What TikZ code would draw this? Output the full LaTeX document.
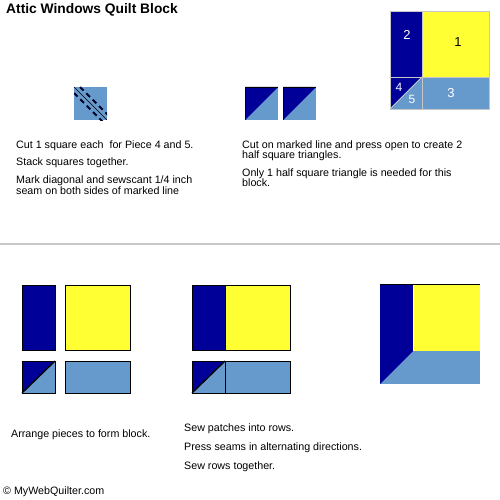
\documentclass[tikz,border=0pt]{standalone}
\usepackage{fontspec}
\setmainfont{Liberation Sans}
\usetikzlibrary{positioning, calc}
\definecolor{navy}{RGB}{0,0,153}
\definecolor{lemon}{RGB}{255,255,51}
\definecolor{sky}{RGB}{102,153,204}
\definecolor{rulegray}{RGB}{200,200,200}
\tikzstyle{patch}=[draw, line width=1pt, inner sep=0, outer sep=0, anchor=north west]
\tikzstyle{ppatch}=[draw=gray!45, line width=0.8pt, inner sep=0, outer sep=0, anchor=north west]
\tikzstyle{txt}=[inner sep=0, anchor=base west, font=\fontsize{10.7}{12}\selectfont]
\tikzstyle{num}=[inner sep=0, font=\fontsize{13}{13}\selectfont]

\begin{document}
\begin{tikzpicture}[x=1pt,y=-1pt]
    \useasboundingbox (0,0) rectangle (500,500);
    \node [anchor=base west, inner sep=0, font=\bfseries\fontsize{13.8}{14}\selectfont] (title) at (6,14) {Attic Windows Quilt Block};

    % finished block, top right
    \node [ppatch, fill=navy, minimum width=32pt, minimum height=66pt] (b2) at (390,11) {};
    \node [ppatch, fill=lemon, minimum width=67pt, minimum height=66pt] (b1) at (422,11) {};
    \node [ppatch, fill=sky, minimum width=67pt, minimum height=32pt] (b3) at (422,77) {};
    \node [ppatch, fill=navy, minimum width=32pt, minimum height=32pt] (b45) at (390,77) {};
    \fill [sky] (b45.south west) -- (b45.north east) -- (b45.south east) -- cycle;
    \draw [gray!45, line width=0.8pt] (b45.south west) -- (b45.north east);
    \draw [gray!45, line width=0.8pt] (b45.south west) rectangle (b45.north east);
    \node [num, text=white] (n2) at (407,35) {2};
    \node [num] (n1) at (458,42) {1};
    \node [num, text=white] (n3) at (451,93) {3};
    \node [num, text=white, font=\fontsize{12}{12}\selectfont] (n4) at (399,87) {4};
    \node [num, text=white, font=\fontsize{12}{12}\selectfont] (n5) at (412,99) {5};

    % stacked squares
    \node [inner sep=0, outer sep=0, anchor=north west, fill=sky, minimum size=33pt] (stack) at (74,87) {};
    \begin{scope}
        \path [clip] (stack.north west) rectangle (stack.south east);
        \draw [black!75!navy, line width=1.8pt, dash pattern=on 5pt off 4pt] ($(stack.north west)+(6,0)$) -- ($(stack.south east)+(6,0)$);
        \draw [black!75!navy, line width=1.8pt, dash pattern=on 5pt off 4pt] ($(stack.north west)+(0,6)$) -- ($(stack.south east)+(0,6)$);
    \end{scope}
    \draw [line width=0.7pt] (stack.north west) -- (stack.south east);

    % two half square triangles
    \foreach \n/\x in {hsta/245, hstb/283} {
        \node [inner sep=0, outer sep=0, anchor=north west, fill=sky, minimum size=33pt] (\n) at (\x,87) {};
        \fill [navy] (\n.north west) -- (\n.north east) -- (\n.south west) -- cycle;
        \draw [line width=0.8pt] (\n.south west) -- (\n.north west) -- (\n.north east);
    }

    \node [txt] (cut) at (16,148) {Cut 1 square each\ \ for Piece 4 and 5.};
    \node [txt] (stk) at (16,165) {Stack squares together.};
    \node [txt] (marka) at (16,183) {Mark diagonal and sewscant 1/4 inch};
    \node [txt] (markb) at (16,194) {seam on both sides of marked line};
    \node [txt] (cuta) at (242,148) {Cut on marked line and press open to create 2};
    \node [txt] (cutb) at (242,158) {half square triangles.};
    \node [txt] (onlya) at (242,176) {Only 1 half square triangle is needed for this};
    \node [txt] (onlyb) at (242,186) {block.};

    \coordinate (ruleL) at (0,243.5);
    \coordinate (ruleR) at (500,243.5);
    \draw [rulegray, line width=2pt] (ruleL) -- (ruleR);

    % arranged pieces and sewn rows
    \foreach \p/\x/\g in {a/22/43, s/192/33} {
        \node [patch, fill=navy, minimum width=33pt, minimum height=65pt] (\p2) at (\x,285) {};
        \node [patch, fill=lemon, minimum width=65pt, minimum height=65pt] (\p1) at (\x+\g,285) {};
        \node [patch, fill=sky, minimum width=33pt, minimum height=32pt] (\p45) at (\x,361) {};
        \fill [navy] (\p45.north west) -- (\p45.north east) -- (\p45.south west) -- cycle;
        \draw [line width=1.3pt] (\p45.south west) -- (\p45.north east);
        \draw [line width=1pt] (\p45.south west) rectangle (\p45.north east);
        \node [patch, fill=sky, minimum width=65pt, minimum height=32pt] (\p3) at (\x+\g,361) {};
    }

    % finished block, bottom right
    \node [inner sep=0, outer sep=0, anchor=north west, fill=sky, minimum size=100pt] (blk) at (380,284) {};
    \coordinate (knee) at (413,351);
    \fill [lemon] (knee) rectangle (blk.north east);
    \fill [navy] (blk.north west) -- (blk.north west -| knee) -- (knee) -- (blk.south west) -- cycle;
    \draw [white, line width=1pt] (knee) -- (blk.north west -| knee);
    \draw [line width=1pt] (blk.north west) -- (blk.north east);

    \node [txt] (arr) at (11,437) {Arrange pieces to form block.};
    \node [txt] (sewp) at (184,431) {Sew patches into rows.};
    \node [txt] (press) at (184,450) {Press seams in alternating directions.};
    \node [txt] (sewr) at (184,469) {Sew rows together.};
    \node [txt] (copy) at (3,494) {© MyWebQuilter.com};
\end{tikzpicture}
\end{document}
